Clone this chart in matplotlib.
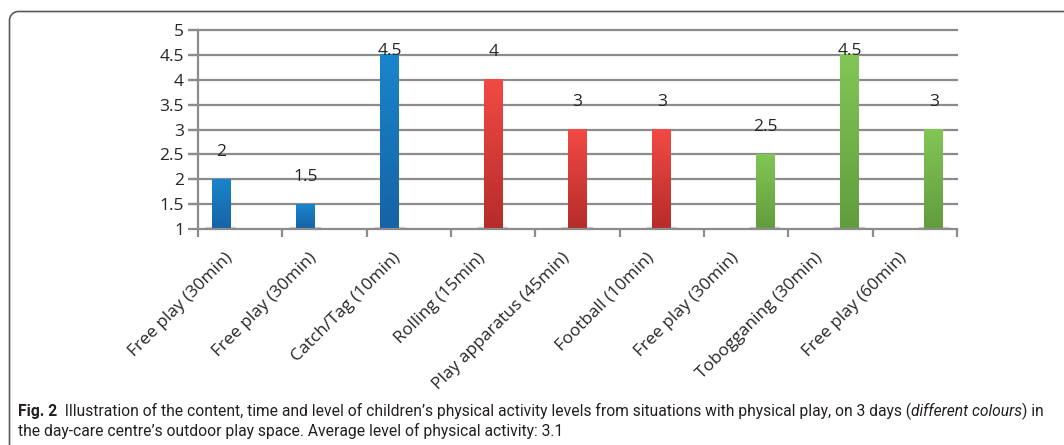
import numpy as np
import matplotlib
matplotlib.use("Agg")
import matplotlib.pyplot as plt
from matplotlib.colors import LinearSegmentedColormap
from matplotlib.lines import Line2D

# ---- data ----
categories = ["Free play (30min)", "Free play (30min)", "Catch/Tag (10min)",
              "Rolling (15min)", "Play apparatus (45min)", "Football (10min)",
              "Free play (30min)", "Tobogganing (30min)", "Free play (60min)"]
values = [2, 1.5, 4.5, 4, 3, 3, 2.5, 4.5, 3]
day = [0, 0, 0, 1, 1, 1, 2, 2, 2]
y_ticks = [1, 1.5, 2, 2.5, 3, 3.5, 4, 4.5, 5]
caption_bold = "Fig. 2"
caption_1 = "  Illustration of the content, time and level of children\u2019s physical activity levels from situations with physical play, on 3 days ("
caption_italic = "different colours"
caption_1b = ") in"
caption_2 = "the day-care centre\u2019s outdoor play space. Average level of physical activity: 3.1"

# ---- style ----
W, H = 1064, 445
day_colors = [("#1563a5", "#1a85cc"), ("#b52c29", "#f24a45"), ("#629c3d", "#82c656")]
grid_col = "#8c8c8c"
txt_col = "#262626"
FONT = ["Open Sans", "DejaVu Sans"]
plt.rcParams["font.family"] = FONT
CAP_FONT = ["Roboto", "DejaVu Sans"]
FS = 12.5

fig = plt.figure(figsize=(W / 100, H / 100), dpi=100)
ax = fig.add_axes([198 / W, 1 - 229 / H, (957 - 198) / W, (229 - 30) / H])

n = len(categories)
x = np.arange(n)
bw = 0.225
offsets = [-bw, 0.0, bw]
ymin, ymax = y_ticks[0], y_ticks[-1]

grad = np.linspace(0, 1, 256).reshape(-1, 1)
for i, (v, d) in enumerate(zip(values, day)):
    cx = x[i] + offsets[d]
    cmap = LinearSegmentedColormap.from_list("g%d" % d, list(day_colors[d]))
    ax.plot([cx - bw * 0.75, cx + bw * 0.75], [ymin + 0.005, ymin + 0.005],
            color="#b0b0b0", lw=3, alpha=0.6, zorder=2, solid_capstyle="round")
    ax.imshow(grad, extent=[cx - bw / 2, cx + bw / 2, ymin, v], origin="lower",
              aspect="auto", cmap=cmap, zorder=3, interpolation="bilinear")
    ly = min(v + 0.55, 4.58)
    ax.text(cx, ly, f"{v:g}", ha="center", va="center", fontsize=FS,
            color=txt_col, zorder=5)

ax.set_xlim(-0.5, n - 0.5)
ax.set_ylim(ymin, ymax)

for yt in y_ticks[1:]:
    ax.plot([-0.5 - 0.1, n - 0.5], [yt, yt], color=grid_col, lw=1.6,
            zorder=1, clip_on=False)

for s in ["top", "right"]:
    ax.spines[s].set_visible(False)
for s in ["left", "bottom"]:
    ax.spines[s].set_color(grid_col)
    ax.spines[s].set_linewidth(1.6)
ax.spines["bottom"].set_zorder(4)

ax.set_yticks(y_ticks)
ax.set_yticklabels([f"{t:g}" for t in y_ticks], fontsize=FS, color=txt_col)
ax.tick_params(axis="y", length=7, width=1.6, color=grid_col, pad=3)

ax.set_xticks(np.arange(n + 1) - 0.5)
ax.set_xticklabels([])
ax.tick_params(axis="x", length=6, width=1.6, color=grid_col)

# rotated category labels
for i, lab in enumerate(categories):
    ax.annotate(lab, xy=(x[i], ymin), xycoords="data",
                xytext=(-16 * 0.72, -21 * 0.72), textcoords="offset points",
                rotation=45, ha="right", va="top", rotation_mode="anchor",
                fontsize=FS, color=txt_col, annotation_clip=False)

# ---- outer rounded frame ----
def px(xp, yp):
    return xp / W, 1 - yp / H

r = 9
xl, yt_ = 9.5, 11.5
th = np.linspace(np.pi, np.pi / 2, 20)
arc_x = xl + r + r * np.cos(th)
arc_y = yt_ + r - r * np.sin(th)
fx = np.concatenate([[xl], arc_x, [W + 5]])
fy = np.concatenate([[H + 5], arc_y, [yt_]])
pts = [px(a, b) for a, b in zip(fx, fy)]
fig.add_artist(Line2D([p[0] for p in pts], [p[1] for p in pts],
                      transform=fig.transFigure, color="#5a5a5a", lw=1.2))

# ---- caption with mixed styles ----
fig.canvas.draw()
renderer = fig.canvas.get_renderer()

def width_of(s, size, weight="normal", style="normal"):
    t = fig.text(0, 0, s, fontsize=size, fontweight=weight, fontstyle=style,
                 family=CAP_FONT)
    w = t.get_window_extent(renderer).width
    t.remove()
    return w

base = 10
pieces1 = [(caption_bold, "bold", "normal"), (caption_1, "normal", "normal"),
           (caption_italic, "normal", "italic"), (caption_1b, "normal", "normal")]
tot = sum(width_of(s, base, w, st) for s, w, st in pieces1)
size = base * (1046 - 18) / tot

xcur = 18
y1 = 1 - 416 / H
for s, w, st in pieces1:
    t = fig.text(xcur / W, y1, s, fontsize=size, fontweight=w, fontstyle=st,
                 family=CAP_FONT, color="#231f20", va="baseline")
    xcur += t.get_window_extent(renderer).width
fig.text(18 / W, 1 - 436 / H, caption_2, fontsize=size, family=CAP_FONT,
         color="#231f20", va="baseline")

fig.savefig("out.png", dpi=100)
